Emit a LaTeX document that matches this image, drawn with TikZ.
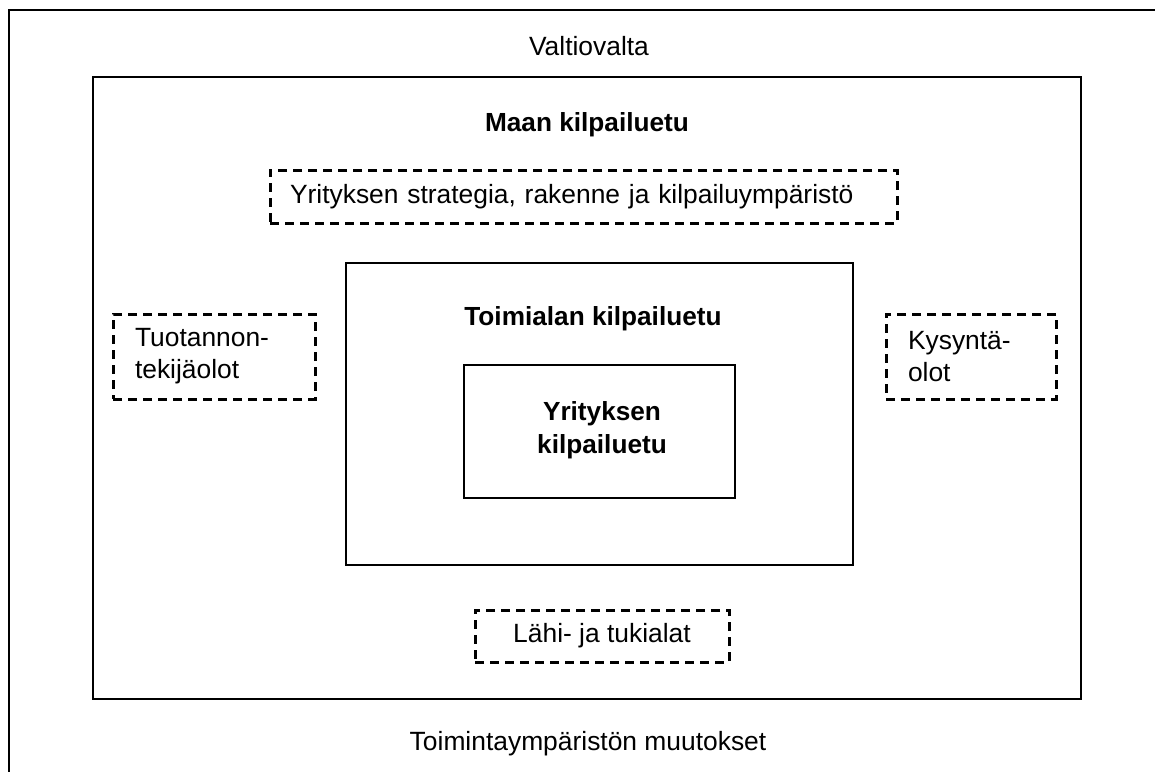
\documentclass[tikz,border=0pt]{standalone}
\usepackage{fontspec}
\setmainfont{Liberation Sans}
\begin{document}
\begin{tikzpicture}[x=0.5pt,y=-0.5pt,
  solidbox/.style={draw, line width=1pt, inner sep=0pt},
  dashbox/.style={draw, line width=1.5pt, dash pattern=on 4.5pt off 3pt, inner sep=0pt},
  plain/.style={font=\fontsize{13.2}{16}\selectfont, inner sep=0pt},
  heavy/.style={font=\bfseries\fontsize{13.1}{16.5}\selectfont, inner sep=0pt}]
\useasboundingbox (0,0) rectangle (1155,772);
\fill[white] (0,0) rectangle (1155,772);

% open outer frame (top and left edges only)
\coordinate (frameTR) at (1155,10);
\coordinate (frameTL) at (9,10);
\coordinate (frameBL) at (9,772);
\draw[line width=1.1pt] (frameTR) -- (frameTL) -- (frameBL);

\node[plain, anchor=base] (valtio) at (589,55) {Valtiovalta};
\node[plain, anchor=base] (muutos) at (588,750) {Toimintaympäristön muutokset};

% nested solid boxes
\node[solidbox, minimum width=494pt, minimum height=311pt] (maa) at (587,388) {};
\node[heavy, anchor=base] (maaT) at (587,131) {Maan kilpailuetu};

\node[solidbox, minimum width=253.5pt, minimum height=151pt] (toimiala) at (599.5,414) {};
\node[heavy, anchor=base] (toimialaT) at (593,325) {Toimialan kilpailuetu};

\node[solidbox, minimum width=135.5pt, minimum height=66.5pt] (yritys) at (599.5,431.5) {};
\node[heavy, align=center] (yritysT) at (602,430) {Yrityksen\\kilpailuetu};

% dashed factor boxes
\node[dashbox, plain, minimum height=26.5pt, text width=293.5pt, align=left, inner xsep=10pt] (strat) at (583.5,196.5)
  {Yrityksen strategia, rakenne ja kilpailuympäristö};
\node[dashbox, plain, minimum height=42.5pt, text width=79pt, align=left, inner xsep=11pt] (tuot) at (214,356.5)
  {Tuotannon-\\tekijäolot};
\node[dashbox, plain, minimum height=42.5pt, text width=63pt, align=left, inner xsep=11pt] (kysy) at (971,356.5)
  {Kysyntä-\\olot};
\node[dashbox, plain, minimum width=127pt, minimum height=26pt] (lahi) at (602,636) {Lähi- ja tukialat};
\end{tikzpicture}
\end{document}
